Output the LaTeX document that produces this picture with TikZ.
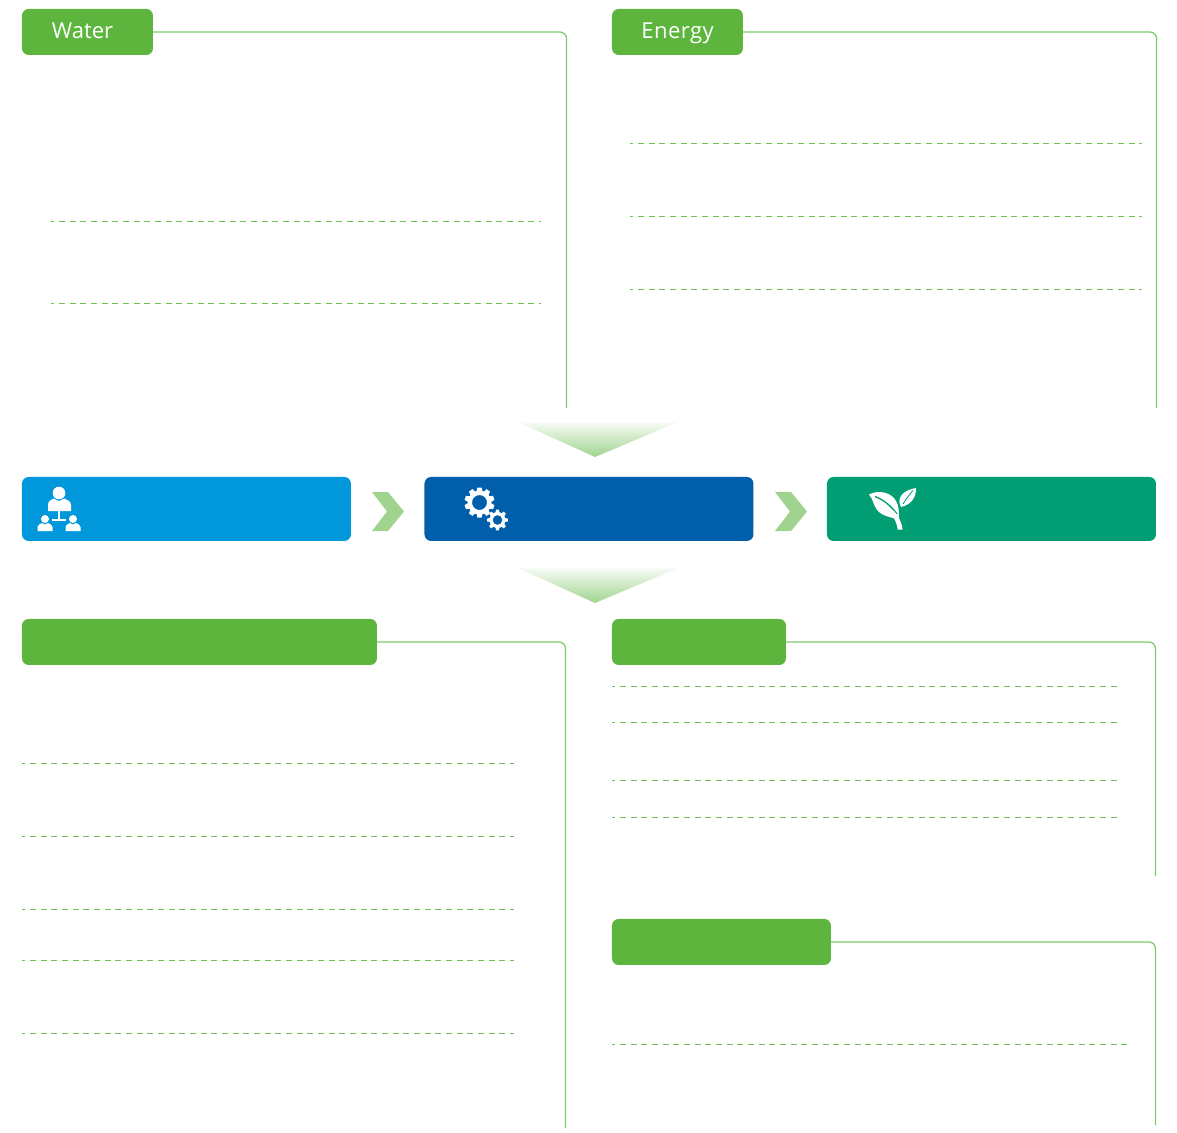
\documentclass[tikz,border=0pt]{standalone}
\usepackage{fontspec}
\setmainfont{Open Sans}
\definecolor{tabgreen}{HTML}{5DB53E}
\definecolor{linegreen}{HTML}{7CCB6C}
\definecolor{dashgreen}{HTML}{6CC050}
\definecolor{chev}{HTML}{A0D48E}
\definecolor{barblue}{HTML}{0098DA}
\definecolor{bardark}{HTML}{005EAA}
\definecolor{barteal}{HTML}{009E72}
\tikzset{
  tabbox/.style={fill=tabgreen,rounded corners=5pt,inner sep=0pt,minimum height=34.5pt},
  tabtext/.style={text=white,font=\fontsize{16.5pt}{18pt}\selectfont},
  barbox/.style={rounded corners=5pt,inner sep=0pt,minimum height=48pt,minimum width=246.75pt},
  frameline/.style={draw=linegreen,line width=0.95pt,rounded corners=5pt},
  dashline/.style={draw=dashgreen,line width=1pt,dash pattern=on 4.5pt off 3.5pt,dash phase=2pt},
  chevron/.style={fill=chev},
  funnel/.style={top color=chev!8,bottom color=chev,draw=none},
  icon/.style={fill=white,draw=none}
}
\newcommand{\gearshape}[6]{% x,y,outer,toothbase,ringhole,teeth step
  \foreach \a in {0,#6,...,359}{
    \fill[white,rotate around={\a:(#1,#2)}] (#1-#3*0.2,#2-#4+1) -- (#1-#3*0.14,#2-#3) -- (#1+#3*0.14,#2-#3) -- (#1+#3*0.2,#2-#4+1) -- cycle;
  }
  \fill[white,even odd rule] (#1,#2) circle (#4) (#1,#2) circle (#5);
}
\begin{document}
\begin{tikzpicture}[x=0.75pt,y=-0.75pt]
\useasboundingbox (0,0) rectangle (1177,1132);
% tabs
\node[tabbox,minimum width=98.25pt,anchor=north west] (water) at (21.7,8.7) {};
\node[tabtext] (watertext) at (82.5,31) {Water};
\node[tabbox,minimum width=98.25pt,anchor=north west] (energy) at (611.7,8.7) {};
\node[tabtext] (energytext) at (677.5,33.5) {\addfontfeatures{LetterSpace=2}Energy};
\node[tabbox,minimum width=266.25pt,anchor=north west] (tabc) at (21.7,618.7) {};
\node[tabbox,minimum width=130.5pt,anchor=north west] (tabd) at (611.7,618.7) {};
\node[tabbox,minimum width=164.25pt,anchor=north west] (tabe) at (611.7,918.7) {};
% frame ends
\coordinate (waterend) at (566.5,408);
\coordinate (energyend) at (1156.5,408);
\coordinate (tabcend) at (565.5,1128);
\coordinate (tabdend) at (1155.5,876);
\coordinate (tabeend) at (1155.5,1125);
\draw[frameline] (water.east) -- (waterend |- water.east) -- (waterend);
\draw[frameline] (energy.east) -- (energyend |- energy.east) -- (energyend);
\draw[frameline] (tabc.east) -- (tabcend |- tabc.east) -- (tabcend);
\draw[frameline] (tabd.east) -- (tabdend |- tabd.east) -- (tabdend);
\draw[frameline] (tabe.east) -- (tabeend |- tabe.east) -- (tabeend);
% dashed rules
\foreach \y in {221.7,303.7}{\draw[dashline] (51,\y) -- (541,\y);}
\foreach \y in {143.7,216.7,289.7}{\draw[dashline] (630,\y) -- (1142,\y);}
\foreach \y in {763.7,836.7,909.7,960.7,1033.7}{\draw[dashline] (22,\y) -- (514,\y);}
\foreach \y in {686.7,722.7,780.7,817.7}{\draw[dashline] (612,\y) -- (1120,\y);}
\draw[dashline] (612,1044.7) -- (1131,1044.7);
% funnels
\shade[funnel] (518,422) -- (678,422) -- (595,457) -- cycle;
\shade[funnel] (518,568) -- (678,568) -- (595,603) -- cycle;
% bars
\node[barbox,fill=barblue,anchor=north west] (barone) at (21.7,476.7) {};
\node[barbox,fill=bardark,anchor=north west] (bartwo) at (424.2,476.7) {};
\node[barbox,fill=barteal,anchor=north west] (barthree) at (826.7,476.7) {};
% chevrons
\fill[chevron] (372,492) -- (388,492) -- (404,511.5) -- (388,531) -- (372,531) -- (387,511.5) -- cycle;
\fill[chevron] (775,492) -- (791,492) -- (807,511.5) -- (791,531) -- (775,531) -- (790,511.5) -- cycle;
% people icon
\fill[icon] (59,493) circle (6.3);
\fill[icon] (48,511) -- (48,505) .. controls (48,501) and (51,500) .. (53.5,498.5) -- (59,501) -- (64.5,498.5) .. controls (67,500) and (71,501) .. (71,505) -- (71,511) -- cycle;
\fill[icon] (58,511) rectangle (60,519);
\fill[icon] (52,518.5) rectangle (66,520.5);
\fill[icon] (45,519) circle (4);
\fill[icon] (73,519) circle (4);
\fill[icon] (37.5,531) -- (37.5,527) .. controls (37.5,525) and (40,524) .. (42,523) -- (45,524.5) -- (48,523) .. controls (50,524) and (52.5,525) .. (52.5,527) -- (52.5,531) -- cycle;
\fill[icon] (65.5,531) -- (65.5,527) .. controls (65.5,525) and (68,524) .. (70,523) -- (73,524.5) -- (76,523) .. controls (78,524) and (80.5,525) .. (80.5,527) -- (80.5,531) -- cycle;
% gears
\gearshape{479.5}{502.5}{15}{12}{7.5}{36}
\gearshape{497.5}{520}{10.3}{8}{4.9}{45}
% leaves
\fill[icon] (869,494.5) .. controls (879,489) and (892,493) .. (896,501) .. controls (899,506) and (899,512) .. (899,519) .. controls (892,518) and (882,516) .. (877,510) .. controls (873,504) and (873,499) .. (869,494.5) -- cycle;
\draw[barteal,line width=1pt] (875,496.5) .. controls (884,500) and (891,506) .. (897,514);
\fill[icon] (894,511) .. controls (899,517) and (902,523) .. (902.5,529.5) -- (897.7,529.5) .. controls (897,524) and (895,519) .. (891,514) -- cycle;
\fill[icon] (916,488) .. controls (916,496) and (913,504) .. (901,507) .. controls (896,498) and (903,490) .. (916,488) -- cycle;
\draw[barteal,line width=0.6pt] (913,490.5) .. controls (909,495) and (906,499) .. (903,504);
\end{tikzpicture}
\end{document}
